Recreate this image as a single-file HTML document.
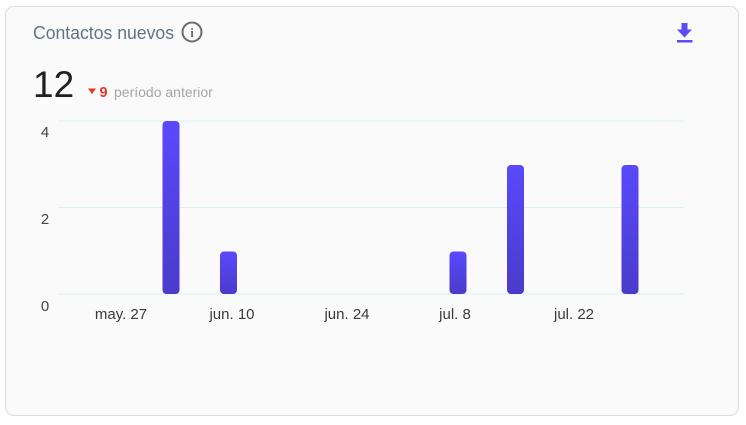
<!DOCTYPE html>
<html><head><meta charset="utf-8"><style>
html,body{margin:0;padding:0;background:#fff;}
body{width:746px;height:425px;position:relative;overflow:hidden;font-family:"Liberation Sans",sans-serif;}
.card{position:absolute;left:4.5px;top:5.5px;width:734px;height:410px;box-sizing:border-box;border:1px solid #dcdcdc;border-radius:9px;background:#fafafa;}
svg{position:absolute;left:0;top:0;}
</style></head><body>
<div class="card"></div>
<svg width="746" height="425" viewBox="0 0 746 425">
  <defs>
    <linearGradient id="g" x1="0" y1="0" x2="0" y2="1">
      <stop offset="0" stop-color="#5a49fc"/>
      <stop offset="1" stop-color="#4a3bca"/>
    </linearGradient>
  </defs>
  <text x="33" y="39" font-size="18" fill="#5b7686" font-family="Liberation Sans, sans-serif" textLength="141" lengthAdjust="spacingAndGlyphs">Contactos nuevos</text>
  <circle cx="192" cy="32" r="9.5" fill="none" stroke="#6b6b6b" stroke-width="2"/>
  <text x="192" y="37" font-size="13" font-weight="bold" fill="#6b6b6b" text-anchor="middle" font-family="Liberation Serif, serif">i</text>
  <!-- download icon -->
  <rect x="681.5" y="23" width="6" height="7" fill="#5b4cf5"/>
  <polygon points="677,29.5 692,29.5 684.5,37.5" fill="#5b4cf5"/>
  <rect x="677" y="40" width="15.5" height="2.5" fill="#5b4cf5"/>
  <text x="33" y="97" font-size="37" fill="#1f1f1f" font-family="Liberation Sans, sans-serif">12</text>
  <polygon points="88,88.5 96,88.5 92,94" fill="#e8362d"/>
  <text x="99.5" y="97" font-size="14.5" font-weight="bold" fill="#e8362d">9</text>
  <text x="114" y="97" font-size="14" fill="#a5a5a5">período anterior</text>
  <!-- grid -->
  <line x1="58" y1="121" x2="684" y2="121" stroke="#dcf1f6" stroke-width="1"/>
  <line x1="58" y1="207.5" x2="684" y2="207.5" stroke="#dcf1f6" stroke-width="1"/>
  <line x1="58" y1="294" x2="684" y2="294" stroke="#d8f0f6" stroke-width="1"/>
  <g font-size="15" fill="#444" text-anchor="middle">
    <text x="45" y="137">4</text>
    <text x="45" y="224">2</text>
    <text x="45" y="311">0</text>
  </g>
  <!-- bars -->
  <rect x="162.5" y="121" width="17" height="173" rx="4" fill="url(#g)"/>
  <rect x="220" y="251.5" width="17" height="42.5" rx="4" fill="url(#g)"/>
  <rect x="449.5" y="251.5" width="17" height="42.5" rx="4" fill="url(#g)"/>
  <rect x="507" y="165" width="17" height="129" rx="4" fill="url(#g)"/>
  <rect x="621.5" y="165" width="17" height="129" rx="4" fill="url(#g)"/>
  <g font-size="15" fill="#3a3a3a" text-anchor="middle">
    <text x="121" y="319">may. 27</text>
    <text x="232" y="319">jun. 10</text>
    <text x="347" y="319">jun. 24</text>
    <text x="455" y="319">jul. 8</text>
    <text x="574" y="319">jul. 22</text>
  </g>
</svg>
</body></html>
